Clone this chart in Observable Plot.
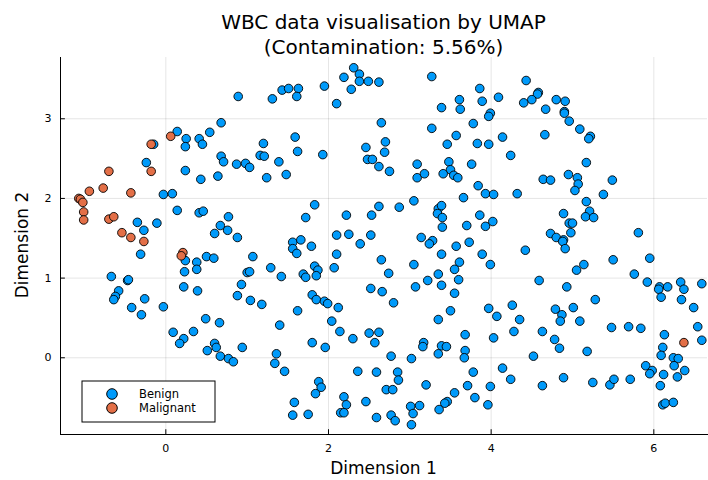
<!DOCTYPE html>
<html>
<head>
<meta charset="utf-8">
<script src="https://cdn.jsdelivr.net/npm/d3@7"></script>
<script src="https://cdn.jsdelivr.net/npm/@observablehq/plot@0.6"></script>
<style>
  html, body { margin: 0; padding: 0; background: #fff; }
  #chart { width: 708px; height: 480px; }
</style>
</head>
<body>
<div id="chart"></div>
<script>
const titleLines = ["WBC data visualisation by UMAP", "(Contamination: 5.56%)"];
const xLabel = "Dimension 1";
const yLabel = "Dimension 2";
const xTicks = [0, 2, 4, 6];
const yTicks = [0, 1, 2, 3];
const classes = ["Benign", "Malignant"];
const classColors = ["#009AFA", "#E36F47"];

const benignX = [
0.14,0.25,0.24,0.41,0.45,0.54,0.68,0.68,0.71,-0.24,0.24,0.43,0.64,-0.15,
-0.03,0.08,0.14,0.41,0.46,0.77,-0.35,-0.27,-0.11,0.67,0.60,0.76,-0.31,0.24,0.38,0.50,0.59,0.23,0.38,-0.67,-0.47,-0.46,-0.58,-0.62,-0.64,-0.26,0.22,0.39,-0.42,-0.03,
-0.30,0.09,0.22,0.17,0.34,0.49,0.66,0.60,0.62,0.51,0.67,
0.89,1.31,1.43,1.51,1.63,1.61,1.95,2.10,2.19,2.31,2.38,2.38,2.49,2.62,2.28,2.65,1.59,1.20,1.62,1.93,0.87,0.98,1.03,1.16,1.21,1.39,1.24,1.48,2.46,2.48,2.54,2.62,2.70,2.69,
0.88,1.07,1.00,1.03,1.29,1.42,0.93,0.88,1.04,1.18,1.83,1.72,1.56,1.56,1.61,1.66,1.79,1.69,1.72,1.83,1.87,1.85,1.80,1.85,1.95,1.99,1.62,2.12,2.10,2.25,2.22,2.53,2.62,2.52,2.39,2.10,2.07,2.65,2.52,2.66,
1.40,2.04,2.14,2.30,2.50,2.62,2.57,1.80,1.96,0.94,0.77,0.83,1.36,1.34,1.46,1.88,1.91,1.84,1.58,1.56,1.75,2.36,2.59,2.19,2.22,2.15,2.19,2.46,2.59,2.71,
3.27,3.86,3.61,3.39,3.62,3.89,4.09,4.43,4.58,4.57,4.50,4.40,4.67,3.99,3.97,3.78,3.27,3.57,3.46,3.83,3.97,4.14,4.24,2.75,3.09,3.09,3.18,3.48,3.50,3.41,3.54,3.59,3.76,3.84,4.66,4.64,
3.93,4.03,4.32,2.87,3.05,3.66,3.35,3.39,3.34,3.40,3.40,3.70,3.86,3.93,4.02,3.14,3.28,3.24,3.57,3.73,3.39,3.89,3.61,3.55,3.99,4.42,3.05,2.74,3.22,3.35,3.60,3.39,3.07,3.55,2.80,4.59,3.50,3.97,4.26,
3.35,4.07,4.35,4.28,4.63,3.68,4.03,3.17,3.16,3.39,3.45,3.35,3.68,3.67,2.77,3.02,4.52,2.85,2.86,2.79,3.20,3.78,3.71,3.55,3.80,3.99,4.14,4.24,4.63,3.96,3.46,3.43,3.36,3.12,3.01,3.04,3.02,2.77,2.82,
4.80,4.91,4.90,4.90,4.96,5.09,5.22,5.20,5.17,4.95,5.06,5.07,4.73,5.49,
5.03,5.38,5.17,5.21,5.16,5.26,4.89,4.96,5.00,4.98,4.73,4.80,4.89,4.88,4.91,5.81,5.50,5.95,5.14,5.05,5.76,4.93,5.92,6.07,6.06,6.17,6.09,6.33,6.37,6.59,6.34,6.49,5.28,5.01,4.79,
4.87,4.85,5.09,4.78,4.84,5.18,5.48,5.69,5.84,6.54,6.59,6.13,6.11,6.09,6.24,6.30,6.25,6.38,5.90,5.98,5.95,6.12,6.29,6.08,4.89,5.25,5.46,5.51,5.71,6.11,6.14,6.24
];
const benignY = [
2.84,2.75,2.65,2.75,2.68,2.83,2.95,2.53,2.46,2.45,2.35,2.24,2.28,2.68,
2.05,2.06,1.85,1.82,1.84,1.77,1.70,1.60,1.69,1.66,1.56,1.60,1.30,1.22,1.20,1.27,1.25,1.08,1.11,1.02,0.97,0.98,0.84,0.77,0.73,0.74,0.89,0.84,0.63,0.64,
0.54,0.32,0.24,0.18,0.33,0.49,0.44,0.18,0.13,0.09,0.02,
3.28,3.25,3.36,3.38,3.38,3.28,3.41,3.19,3.52,3.64,3.56,3.47,3.47,3.46,3.37,2.95,2.77,2.69,2.59,2.55,2.43,2.44,2.39,2.54,2.53,2.46,2.26,2.30,2.64,2.49,2.49,2.40,2.71,2.58,
1.51,1.27,1.07,1.08,1.13,1.02,0.92,0.78,0.72,0.67,1.92,1.76,1.45,1.37,1.31,1.48,1.40,1.05,1.01,1.15,1.10,1.03,0.79,0.73,0.71,0.68,0.59,0.63,1.54,1.55,1.79,1.79,1.90,1.54,1.43,1.30,1.13,1.23,0.87,0.83,
0.41,0.46,0.33,0.24,0.31,0.32,0.19,0.19,0.13,0.13,-0.01,-0.05,0.05,-0.07,-0.17,-0.30,-0.37,-0.45,-0.56,-0.72,-0.71,-0.17,-0.18,-0.49,-0.59,-0.69,-0.69,-0.55,-0.75,-0.40,
3.53,3.38,3.24,3.14,3.12,3.22,3.27,3.48,3.33,3.31,3.24,3.20,3.12,3.07,3.03,2.94,2.88,2.79,2.68,2.69,2.68,2.77,2.54,2.34,2.43,2.26,2.31,2.46,2.36,2.31,2.29,2.26,2.43,2.16,2.80,2.24,
2.06,2.05,2.06,1.89,1.97,2.01,1.87,1.91,1.81,1.76,1.64,1.66,1.79,1.65,1.71,1.51,1.47,1.43,1.40,1.45,1.30,1.30,1.20,1.11,1.17,1.35,1.17,1.06,0.97,1.05,0.98,0.91,0.89,0.81,0.69,0.97,0.59,0.62,0.66,
0.48,0.52,0.48,0.33,0.33,0.29,0.25,0.19,0.14,0.15,0.14,0.05,0.09,0.00,0.02,-0.01,0.02,-0.18,-0.28,-0.40,-0.34,-0.18,-0.35,-0.44,-0.50,-0.36,-0.13,-0.27,-0.35,-0.59,-0.55,-0.57,-0.65,-0.60,-0.61,-0.70,-0.84,-0.72,-0.79,
3.24,3.22,3.09,3.07,2.97,2.87,2.78,2.75,2.45,2.30,2.26,2.18,2.23,2.23,
2.10,2.05,1.96,1.84,1.77,1.76,1.81,1.69,1.69,1.57,1.56,1.51,1.48,1.46,1.37,1.57,1.23,1.25,1.17,1.10,1.05,0.89,0.95,0.89,0.86,0.89,0.76,0.95,0.86,0.93,0.73,0.63,0.73,0.63,0.61,
0.54,0.46,0.46,0.23,0.12,0.08,0.38,0.39,0.37,0.39,0.22,0.29,0.13,0.03,0.00,-0.01,-0.10,-0.16,-0.10,-0.16,-0.20,-0.21,-0.24,-0.35,-0.25,-0.31,-0.34,-0.27,-0.27,-0.59,-0.57,-0.56
];
const malignantX = [0.06,-0.18,-0.70,-0.18,-0.94,-0.77,-0.43,-1.07,-1.05,-1.02,-1.01,-1.01,-0.70,-0.64,-0.54,-0.43,-0.27,0.21,0.19,6.37];
const malignantY = [2.78,2.68,2.34,2.34,2.09,2.13,2.07,2.00,1.99,1.95,1.83,1.73,1.74,1.77,1.57,1.51,1.46,1.32,1.28,0.19];

const benign = benignX.map((x, i) => ({x, y: benignY[i], cls: classes[0]}));
const malignant = malignantX.map((x, i) => ({x, y: malignantY[i], cls: classes[1]}));

const FONT = "DejaVu Sans, sans-serif";
const xDomain = [-1.295, 6.66];
const yDomain = [-0.963, 3.769];

const plot = Plot.plot({
  width: 708,
  height: 480,
  marginLeft: 60,
  marginRight: 1,
  marginTop: 57,
  marginBottom: 46,
  style: {fontFamily: FONT, fontSize: "11px", color: "#000", background: "#fff"},
  x: {domain: xDomain, ticks: xTicks, label: null},
  y: {domain: yDomain, ticks: yTicks, label: null},
  color: {domain: classes, range: classColors},
  marks: [
    Plot.gridX(xTicks, {stroke: "#000", strokeOpacity: 0.1, strokeWidth: 1}),
    Plot.gridY(yTicks, {stroke: "#000", strokeOpacity: 0.1, strokeWidth: 1}),
    Plot.axisX(xTicks, {tickSize: 0, tickPadding: 10, fontSize: 11, fill: "#000", tickFormat: d3.format("d")}),
    Plot.axisY(yTicks, {tickSize: 0, tickPadding: 9, fontSize: 11, fill: "#000", tickFormat: d3.format("d")}),
    Plot.ruleX(xTicks, {x: d => d, y1: yDomain[0], y2: yDomain[0] + 0.06, stroke: "#000", strokeWidth: 1}),
    Plot.ruleY(yTicks, {y: d => d, x1: xDomain[0], x2: xDomain[0] + 0.06, stroke: "#000", strokeWidth: 1}),
    Plot.frame({anchor: "left", stroke: "#000", strokeWidth: 1}),
    Plot.frame({anchor: "bottom", stroke: "#000", strokeWidth: 1}),
    Plot.dot(benign, {x: "x", y: "y", fill: "cls", r: 4.3, stroke: "#000", strokeWidth: 0.9}),
    Plot.dot(malignant, {x: "x", y: "y", fill: "cls", r: 4.3, stroke: "#000", strokeWidth: 0.9})
  ]
});

document.getElementById("chart").appendChild(plot);
const svg = d3.select(plot);
const cx = (60 + 707) / 2;

svg.append("text").attr("x", cx).attr("y", 29).attr("text-anchor", "middle")
  .attr("font-family", FONT).attr("font-size", 20).attr("fill", "#000").text(titleLines[0]);
svg.append("text").attr("x", cx).attr("y", 54).attr("text-anchor", "middle")
  .attr("font-family", FONT).attr("font-size", 20).attr("fill", "#000").text(titleLines[1]);

svg.append("text").attr("x", cx).attr("y", 474).attr("text-anchor", "middle")
  .attr("font-family", FONT).attr("font-size", 17).attr("fill", "#000").text(xLabel);
svg.append("text").attr("transform", "translate(28,245) rotate(-90)").attr("text-anchor", "middle")
  .attr("font-family", FONT).attr("font-size", 17).attr("fill", "#000").text(yLabel);

// legend
const lg = svg.append("g");
lg.append("rect").attr("x", 82).attr("y", 381).attr("width", 133).attr("height", 41)
  .attr("fill", "#fff").attr("stroke", "#000").attr("stroke-width", 1);
classes.forEach((c, i) => {
  const yy = 394 + i * 14;
  lg.append("circle").attr("cx", 112).attr("cy", yy).attr("r", 5.3)
    .attr("fill", classColors[i]).attr("stroke", "#000").attr("stroke-width", 1);
  lg.append("text").attr("x", 139).attr("y", yy + 4).attr("text-anchor", "start")
    .attr("font-family", FONT).attr("font-size", 11.5).attr("fill", "#000").text(c);
});
</script>
</body>
</html>
